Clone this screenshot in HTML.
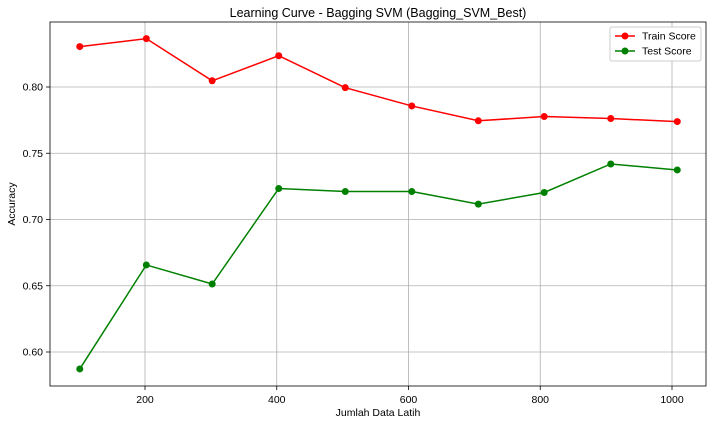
<!DOCTYPE html>
<html><head><meta charset="utf-8"><style>
body{margin:0;background:#fff;font-family:"Liberation Sans","DejaVu Sans",sans-serif}
svg text{font-family:"Liberation Sans","DejaVu Sans",sans-serif}
</style></head><body>
<svg id="c" width="712" height="424" xmlns="http://www.w3.org/2000/svg"></svg>
<script>
const trainSizes=[101,202,302,403,504,605,706,806,907,1008];
const trainScores=[0.8305,0.8365,0.8047,0.8236,0.7995,0.7857,0.7745,0.7777,0.7762,0.7739];
const testScores=[0.5872,0.6657,0.6513,0.7234,0.7211,0.7211,0.7116,0.7204,0.7419,0.7374];
const xTicks=[200,400,600,800,1000];
const yTicks=[0.60,0.65,0.70,0.75,0.80];
const L=50,R=706,T=22,B=386;
const xs=v=>13.25+v*0.65875;
const ys=v=>87-(v-0.80)*1325;
const svg=document.getElementById('c');
const NS='http://www.w3.org/2000/svg';
function mk(tag,attrs,name,parent){const e=document.createElementNS(NS,tag);for(const k in attrs)e.setAttribute(k,attrs[k]);


(parent||svg).appendChild(e);return e;}
mk('rect',{x:0,y:0,width:712,height:424,fill:'#fff'},'background');
xTicks.forEach(t=>{const x=xs(t);
mk('line',{x1:x,x2:x,y1:T,y2:B,stroke:'#b0b0b0','stroke-width':0.8},'x-gridline');
mk('line',{x1:x,x2:x,y1:B,y2:B+4,stroke:'#000','stroke-width':0.8},'x-tick');
const tx=mk('text',{x:x,y:B+17,'font-size':10.5,'text-anchor':'middle'},'x-tick-label');tx.textContent=t;});
yTicks.forEach(t=>{const y=ys(t);
mk('line',{x1:L,x2:R,y1:y,y2:y,stroke:'#b0b0b0','stroke-width':0.8},'y-gridline');
mk('line',{x1:L-4,x2:L,y1:y,y2:y,stroke:'#000','stroke-width':0.8},'y-tick');
const tx=mk('text',{x:L-7,y:y+3.5,'font-size':10.5,'text-anchor':'end'},'y-tick-label');tx.textContent=t.toFixed(2);});
function series(vals,color,name){
mk('polyline',{points:trainSizes.map((s,i)=>xs(s)+','+ys(vals[i])).join(' '),fill:'none',stroke:color,'stroke-width':1.5},name+'-line');
trainSizes.forEach((s,i)=>mk('circle',{cx:xs(s),cy:ys(vals[i]),r:3.5,fill:color},name+'-point'));}
series(trainScores,'#ff0000','train-score');
series(testScores,'#008000','test-score');
mk('rect',{x:L,y:T,width:R-L,height:B-T,fill:'none',stroke:'#000','stroke-width':0.8},'plot-frame');
let t=mk('text',{x:378,y:17,'font-size':12.5,'text-anchor':'middle'},'chart-title');t.textContent='Learning Curve - Bagging SVM (Bagging_SVM_Best)';
t=mk('text',{x:378,y:416,'font-size':10.5,'text-anchor':'middle'},'x-axis-title');t.textContent='Jumlah Data Latih';
t=mk('text',{x:15,y:204,'font-size':10.5,'text-anchor':'middle',transform:'rotate(-90 15 204)'},'y-axis-title');t.textContent='Accuracy';
const lg=mk('g',{},'legend');
mk('rect',{x:610,y:27,width:91,height:34,rx:2,fill:'#fff',stroke:'#ccc'},'legend-box',lg);
[['Train Score','#ff0000',36],['Test Score','#008000',51]].forEach(([n,c,y])=>{
mk('line',{x1:615,x2:635,y1:y,y2:y,stroke:c,'stroke-width':1.5},'legend-line',lg);
mk('circle',{cx:625,cy:y,r:3.5,fill:c},'legend-marker',lg);
const tx=mk('text',{x:642,y:y+3.5,'font-size':10.5},'legend-label',lg);tx.textContent=n;});
</script>
</body></html>
